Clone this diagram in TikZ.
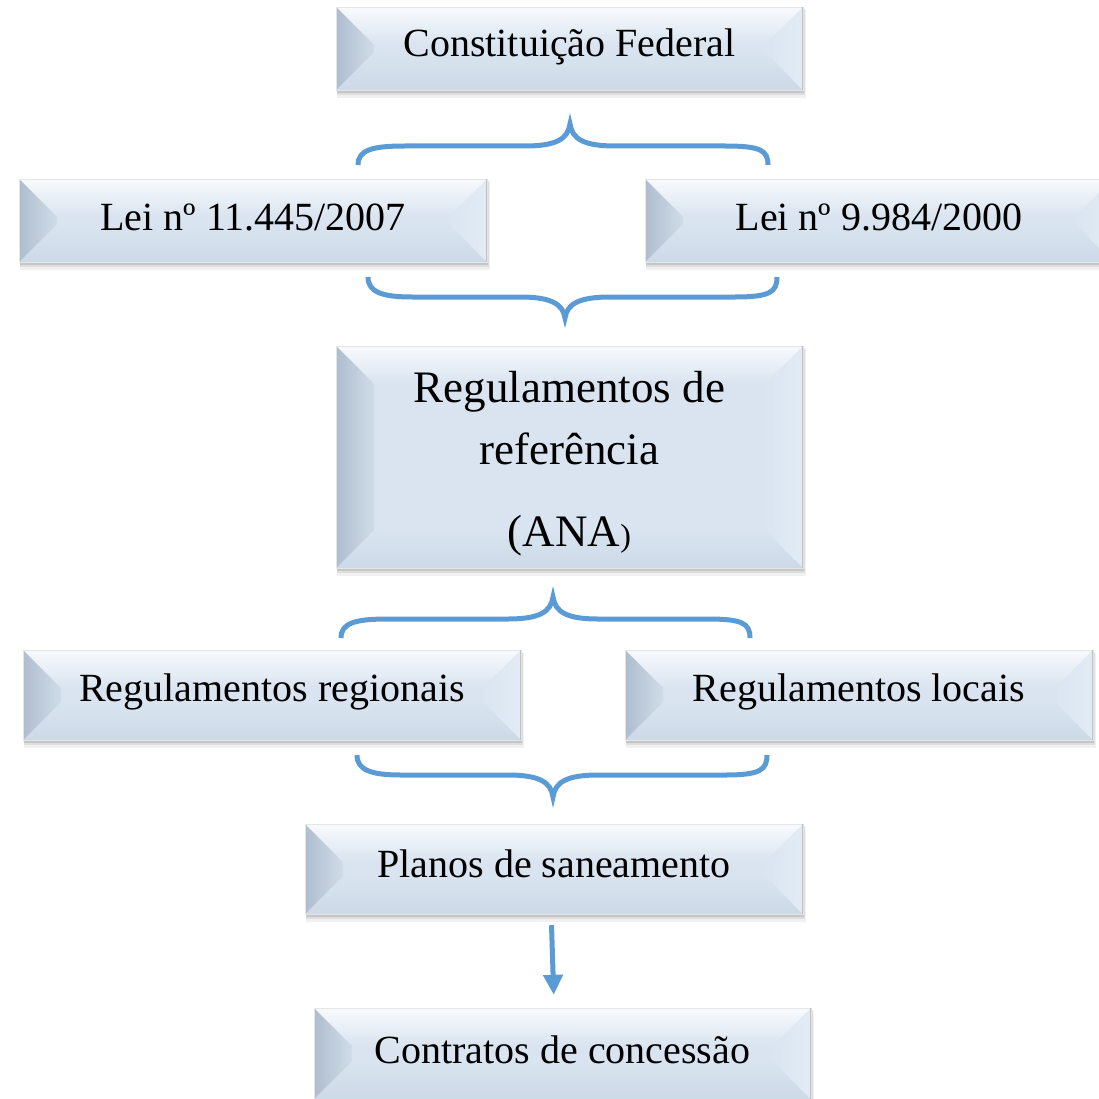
\documentclass[tikz,border=0pt]{standalone}
\usepackage{fontspec}
\setmainfont{Liberation Serif}
\usetikzlibrary{arrows.meta,calc}
\definecolor{bracec}{HTML}{5B9BD5}
\definecolor{face}{HTML}{D9E4F0}
\definecolor{facetop}{HTML}{F8FAFD}
\definecolor{facebot}{HTML}{CCD9E7}
\definecolor{bevLo}{HTML}{AEBDCE}
\definecolor{bevLi}{HTML}{D0DCE8}
\definecolor{bevRo}{HTML}{E3ECF5}
\definecolor{bevRi}{HTML}{DAE5F1}
\tikzset{
  bracepath/.style={draw=bracec,line width=5pt},
  arrowpath/.style={draw=bracec,line width=5pt,-{Triangle[width=19pt,length=20pt]}},
  boxtext/.style={inner sep=0pt,align=center,font=\fontsize{40}{48}\selectfont},
}
\newcommand\bevbox[7]{%
  \pgfmathsetmacro\bvd{min(38,(#5-#3)/2)}%
  \pgfmathsetmacro\bvw{#4-#2}%
  \pgfmathsetmacro\bvh{#5-#3}%
  \fill[black!45,opacity=.12] ({#2+1},{#3+3}) rectangle ({#4+3},{#5+8});
  \fill[black!45,opacity=.18] ({#2+1},{#3+2}) rectangle ({#4+2},{#5+5});
  \fill[black!50,opacity=.25] ({#2+1},{#3+1}) rectangle ({#4+1},{#5+3});
  \fill[face] (#2,#3) rectangle (#4,#5);
  \shade[top color=facetop,bottom color=face] (#2,#3) -- (#4,#3) -- ({#4-38},{#3+\bvd}) -- ({#2+38},{#3+\bvd}) -- cycle;
  \shade[top color=face,bottom color=facebot] (#2,#5) -- (#4,#5) -- ({#4-38},{#5-\bvd}) -- ({#2+38},{#5-\bvd}) -- cycle;
  \shade[left color=bevLo,right color=bevLi] (#2,#3) -- ({#2+38},{#3+\bvd}) -- ({#2+38},{#5-\bvd}) -- (#2,#5) -- cycle;
  \shade[left color=bevRi,right color=bevRo] (#4,#3) -- ({#4-38},{#3+\bvd}) -- ({#4-38},{#5-\bvd}) -- (#4,#5) -- cycle;
  \draw[black!10,line width=.8pt] (#2,#3) rectangle (#4,#5);
  \draw[black!25,line width=1pt] ({#4-.5},#3) -- ({#4-.5},#5);
  \node[boxtext,minimum width=\bvw pt,minimum height=\bvh pt,#7] (#1) at ({(#2+#4)/2},{(#3+#5)/2}) {#6};
}
\begin{document}
\begin{tikzpicture}[x=1pt,y=-1pt]
\useasboundingbox[fill=white] (0,0) rectangle (1099,1099);
% boxes
\bevbox{cf}{336}{7}{803}{90}{Constituição Federal}{yshift=2pt}
\bevbox{lei1}{19}{179}{487}{262}{Lei nº 11.445/2007}{yshift=3pt}
\bevbox{lei2}{645}{179}{1113}{262}{Lei nº 9.984/2000}{yshift=3pt}
\bevbox{ref}{336}{346}{803}{568}{Regulamentos de\\[2pt] referência\\[22pt] (ANA{\fontsize{32}{32}\selectfont)}}{font=\fontsize{45}{60}\selectfont,yshift=-7pt}
\bevbox{reg}{23}{650}{521}{740}{Regulamentos regionais}{yshift=3pt}
\bevbox{loc}{625}{650}{1093}{740}{Regulamentos locais}{yshift=3pt}
\bevbox{plan}{305}{824}{803}{914}{Planos de saneamento}{yshift=5pt}
\bevbox{contr}{314}{1008}{811}{1099}{Contratos de concessão}{yshift=4pt}
% braces
\draw[bracepath] (358,165) .. controls (358,150) and (372,146) .. (405,146) -- (525,146)
  .. controls (556,146) and (568,139) .. (570,124)
  .. controls (572,139) and (584,146) .. (615,146) -- (725,146)
  .. controls (760,146) and (768,150) .. (768,165);
\draw[bracepath] (368,277) .. controls (368,292) and (382,297) .. (412,297) -- (520,297)
  .. controls (551,297) and (563,304) .. (565,318)
  .. controls (567,304) and (579,297) .. (610,297) -- (735,297)
  .. controls (770,297) and (777,292) .. (777,277);
\draw[bracepath] (341,638) .. controls (341,623) and (355,619) .. (388,619) -- (508,619)
  .. controls (539,619) and (551,612) .. (553,597)
  .. controls (555,612) and (567,619) .. (598,619) -- (707,619)
  .. controls (742,619) and (750,623) .. (750,638);
\draw[bracepath] (357,755) .. controls (357,770) and (371,775) .. (401,775) -- (508,775)
  .. controls (539,775) and (551,782) .. (553,797)
  .. controls (555,782) and (567,775) .. (598,775) -- (725,775)
  .. controls (760,775) and (767,770) .. (767,755);
% arrow
\draw[arrowpath,shorten <=16pt,shorten >=9pt] ([xshift=-3pt]plan.south) -- ([xshift=-8.5pt]contr.north);
\end{tikzpicture}
\end{document}
